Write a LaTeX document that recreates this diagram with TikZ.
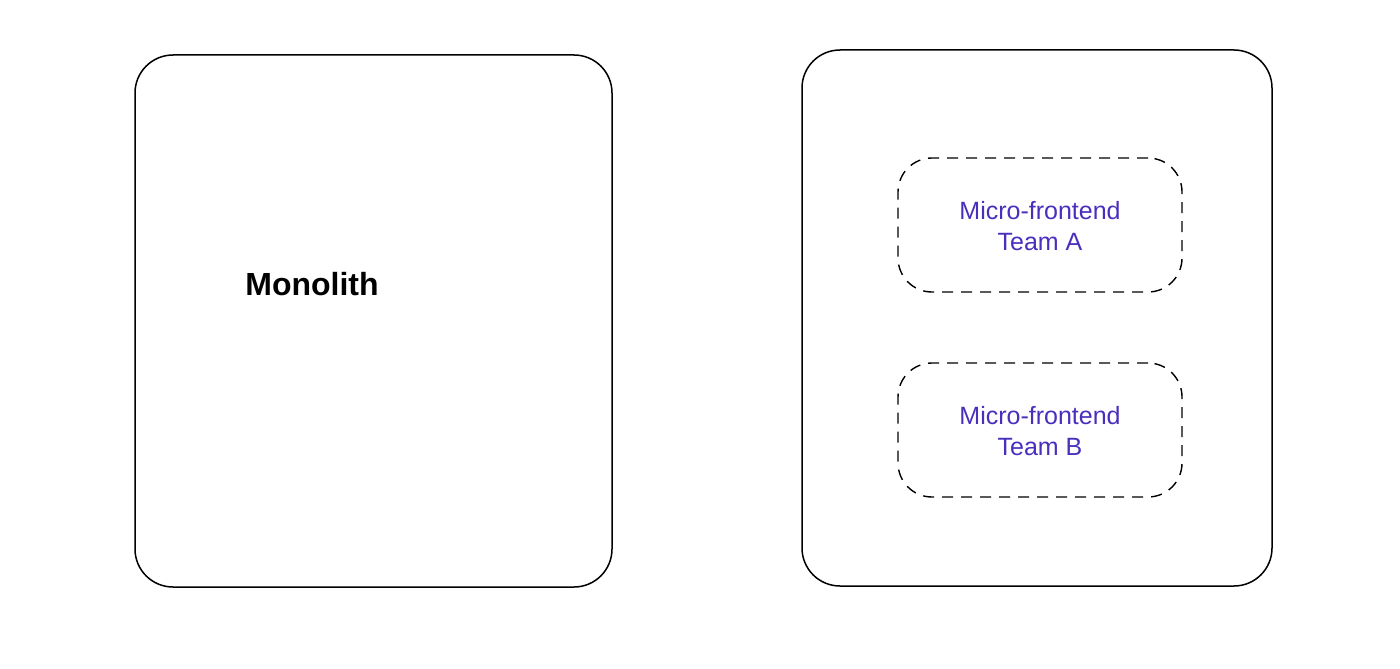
\documentclass[tikz,border=0pt]{standalone}
\usepackage{fontspec}
\setmainfont{Liberation Sans}
\definecolor{mfpurple}{HTML}{4A2FBD}
\begin{document}
\begin{tikzpicture}[x=1pt,y=-1pt,
  bigbox/.style={draw=black,line width=1.5pt,rounded corners=38pt,inner sep=0pt},
  dashbox/.style={draw=black,line width=1.4pt,rounded corners=34pt,inner sep=0pt,dash pattern=on 11pt off 8pt},
  mflabel/.style={text=mfpurple,font=\fontsize{25}{31}\selectfont,align=center},
  monolabel/.style={text=black,font=\fontsize{32}{38}\selectfont\bfseries}]
\useasboundingbox[fill=white] (0,0) rectangle (1400,669);
\node[bigbox,minimum width=477pt,minimum height=532pt] (mono) at (373.5,321) {};
\node[bigbox,minimum width=470pt,minimum height=536pt] (mfe) at (1037,318) {};
\node[dashbox,minimum width=284pt,minimum height=134pt] (teamA) at (1040,225) {};
\node[dashbox,minimum width=284pt,minimum height=134pt] (teamB) at (1040,430) {};
\node[monolabel] (monotext) at (312,284) {Monolith};
\node[mflabel] (atext) at ([yshift=-1pt]teamA.center) {Micro-frontend\\Team A};
\node[mflabel] (btext) at ([yshift=-1pt]teamB.center) {Micro-frontend\\Team B};
\end{tikzpicture}
\end{document}
